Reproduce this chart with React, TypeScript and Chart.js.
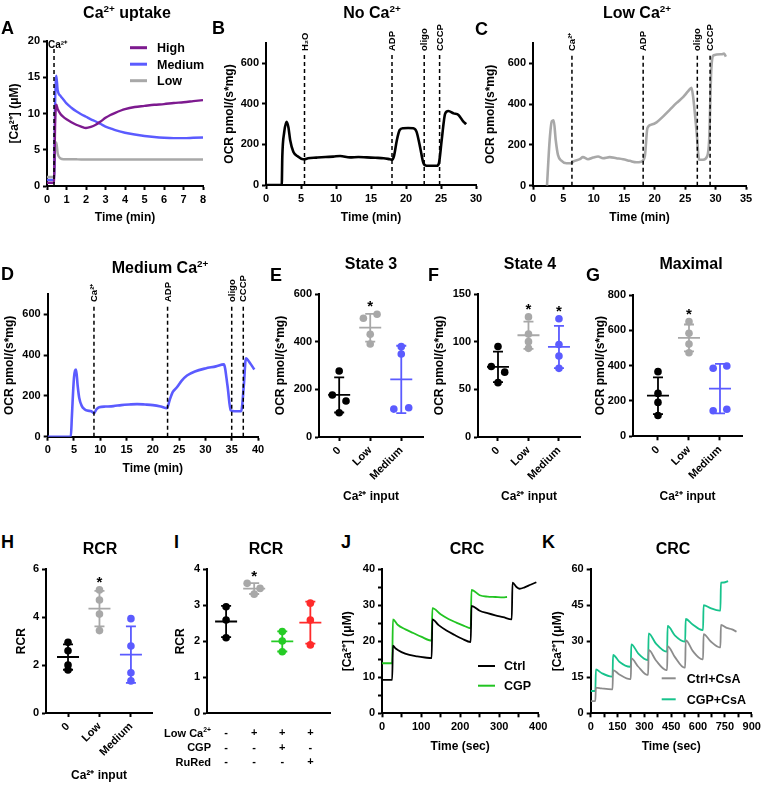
import React, { useEffect, useRef } from 'react';
import { Chart, registerables } from 'chart.js';

Chart.register(...registerables);

const FONT = '"Liberation Sans", Arial, Helvetica, sans-serif';
const BLACK = '#000000';
const PURPLE = '#7d1a8f';
const BLUE = '#5b5bff';
const GREY = '#a8a8a8';
const DARKGREY = '#8c8c8c';
const JGREEN = '#22c422';
const TEAL = '#17c38c';
const IGREEN = '#25cc25';
const RED = '#ff2a2a';

// ---------------- Panel A: Ca2+ uptake ----------------
const aTime = [0, 0.1, 0.2, 0.3, 0.36, 0.42, 0.48, 0.55, 0.7, 0.85, 1.0, 1.25, 1.5, 1.75, 2.0, 2.25, 2.5, 2.75, 3.0, 3.25, 3.5, 4.0, 4.5, 5.0, 5.5, 6.0, 6.5, 7.0, 7.5, 8.0];
const aHigh = [0.45, 0.45, 0.45, 0.45, 0.5, 9.0, 11.2, 10.6, 9.9, 9.5, 9.2, 8.8, 8.45, 8.2, 8.0, 8.15, 8.45, 8.9, 9.4, 9.8, 10.1, 10.6, 10.9, 11.05, 11.2, 11.3, 11.45, 11.55, 11.7, 11.85];
const aMedium = [0.85, 0.85, 0.85, 0.85, 0.9, 12.0, 15.2, 13.2, 12.4, 11.9, 11.4, 10.8, 10.3, 9.9, 9.55, 9.2, 8.9, 8.55, 8.2, 7.95, 7.7, 7.35, 7.1, 6.9, 6.75, 6.65, 6.6, 6.6, 6.65, 6.7];
const aLow = [1.25, 1.25, 1.25, 1.25, 1.3, 5.5, 6.0, 4.5, 3.8, 3.7, 3.7, 3.7, 3.68, 3.66, 3.65, 3.65, 3.65, 3.65, 3.65, 3.65, 3.65, 3.65, 3.65, 3.65, 3.65, 3.65, 3.65, 3.65, 3.65, 3.65];
const aEvents = [0.36];
const aEventLabels = ['Ca²⁺'];
const aXTicks = [0, 1, 2, 3, 4, 5, 6, 7, 8];
const aYTicks = [0, 5, 10, 15, 20];

// ---------------- Panel B: No Ca2+ ----------------
const bTime = [0, 2.25, 2.33, 2.6, 2.95, 3.2, 3.45, 3.9, 4.6, 5.3, 5.5, 6.0, 7.2, 8.5, 9.6, 10.6, 12.0, 13.2, 14.4, 15.6, 16.8, 17.7, 18.05, 18.3, 18.7, 19.1, 19.6, 20.3, 21.05, 21.5, 22.0, 22.5, 22.95, 23.7, 24.4, 24.7, 25.1, 25.6, 26.05, 26.8, 27.5, 28.2, 28.6];
const bOcr = [0, 0, 140, 260, 312, 285, 222, 164, 140, 127, 127, 132, 135, 138, 140, 143, 136, 138, 136, 134, 132, 127, 125, 145, 222, 271, 280, 281, 280, 263, 189, 107, 95, 95, 95, 107, 222, 353, 365, 353, 345, 312, 300];
const bEvents = [5.5, 18.0, 22.6, 24.8];
const bEventLabels = ['H₂O', 'ADP', 'oligo', 'CCCP'];
const bXTicks = [0, 5, 10, 15, 20, 25, 30];

// ---------------- Panel C: Low Ca2+ ----------------
const cTime = [2.3, 2.74, 3.1, 3.4, 3.73, 4.1, 4.66, 5.5, 6.3, 6.58, 7.7, 8.2, 9.05, 9.9, 10.7, 11.5, 12.6, 13.7, 14.8, 15.9, 17.0, 17.8, 18.37, 18.8, 19.5, 20.3, 21.4, 22.5, 23.6, 24.7, 25.5, 26.04, 26.3, 26.9, 27.3, 27.96, 28.6, 28.95, 29.3, 29.7, 31.0, 31.4, 31.7];
const cOcr = [0, 225, 316, 321, 225, 151, 123, 110, 110, 118, 130, 140, 130, 138, 143, 135, 140, 135, 130, 122, 115, 118, 143, 283, 300, 311, 340, 373, 406, 436, 464, 480, 439, 258, 127, 127, 143, 225, 571, 640, 645, 648, 633];
const cEvents = [6.4, 18.1, 27.0, 29.1];
const cEventLabels = ['Ca²⁺', 'ADP', 'oligo', 'CCCP'];
const cXTicks = [0, 5, 10, 15, 20, 25, 30, 35];

// ---------------- Panel D: Medium Ca2+ ----------------
const dTime = [0, 4.4, 4.6, 5.0, 5.4, 5.7, 6.0, 6.5, 7.0, 7.5, 8.3, 8.8, 9.3, 9.8, 11, 12.5, 14, 15.5, 17, 18.5, 20, 21.5, 22.7, 23.2, 23.8, 24.5, 25.5, 26.5, 28, 30, 32, 33.5, 34.2, 34.8, 35.5, 36.8, 37.3, 37.7, 38.5, 39.3];
const dOcr = [0, 0, 100, 290, 330, 250, 190, 150, 135, 128, 125, 115, 135, 145, 148, 150, 155, 158, 160, 158, 155, 148, 140, 180, 220, 240, 275, 300, 320, 335, 345, 355, 250, 130, 125, 125, 250, 385, 360, 330];
const dEvents = [8.8, 22.8, 35.0, 37.2];
const dEventLabels = ['Ca²⁺', 'ADP', 'oligo', 'CCCP'];
const dXTicks = [0, 5, 10, 15, 20, 25, 30, 35, 40];
const ocrTicks = [0, 200, 400, 600];

// ---------------- Panels E-H: scatter with mean ± SD ----------------
const caInputCats = ['0', 'Low', 'Medium'];
const eState3Zero = [277, 176, 151, 102];
const eState3Low = [515, 498, 431, 390];
const eState3Medium = [379, 348, 117, 123];
const fState4Zero = [95, 74, 68, 57];
const fState4Low = [126, 108, 100, 93];
const fState4Medium = [124, 97, 85, 72];
const gMaxZero = [366, 243, 192, 118];
const gMaxLow = [649, 583, 522, 473];
const gMaxMedium = [385, 398, 145, 153];
const hRcrZero = [2.95, 2.6, 2.0, 1.8];
const hRcrLow = [5.14, 4.72, 4.13, 3.44];
const hRcrMedium = [3.94, 2.8, 1.68, 1.34];

// ---------------- Panel I ----------------
const iCtrl = [2.96, 2.59, 2.1];
const iLowCa = [3.61, 3.47, 3.31];
const iCgp = [2.27, 2.01, 1.71];
const iRuRed = [3.06, 2.59, 1.9];
const iRowLowCa = ['-', '+', '+', '+'];
const iRowCGP = ['-', '-', '+', '-'];
const iRowRuRed = ['-', '-', '-', '+'];

// ---------------- Panel J: CRC ----------------
const jCtrlT = [0, 26, 28, 35, 50, 70, 90, 110, 127, 129, 145, 165, 185, 205, 227, 229, 250, 270, 290, 310, 332, 334, 345, 352, 365, 380, 395];
const jCtrl = [9.3, 9.3, 18.8, 18.0, 17.0, 16.2, 15.8, 15.5, 15.3, 26.1, 24.5, 23.0, 21.8, 20.7, 19.8, 29.8, 28.5, 27.8, 27.2, 26.7, 26.1, 36.3, 35.0, 34.6, 35.0, 35.7, 36.4];
const jCgpT = [0, 26, 28, 40, 60, 80, 100, 127, 129, 150, 170, 190, 210, 227, 229, 250, 270, 290, 310, 320];
const jCgp = [13.9, 13.9, 26.1, 24.6, 23.3, 22.3, 21.3, 20.2, 29.2, 27.5, 26.2, 25.2, 24.3, 23.6, 34.3, 32.8, 32.4, 32.3, 32.2, 32.3];
const jXTicks = [0, 50, 100, 150, 200, 250, 300, 350, 400];
const jYTicks = [0, 5, 10, 15, 20, 25, 30, 35, 40];

// ---------------- Panel K: CRC with CsA ----------------
const kCtrlT = [0, 26, 29, 60, 118, 122, 125, 160, 220, 224, 227, 265, 318, 321, 324, 365, 423, 427, 430, 470, 524, 528, 531, 570, 624, 628, 631, 670, 721, 725, 728, 760, 790, 815];
const kCtrl = [5.1, 5.1, 10.7, 10.4, 10.0, 10.0, 18.0, 16.2, 14.2, 14.2, 22.9, 19.5, 16.0, 16.0, 26.4, 22.0, 18.0, 18.0, 28.0, 23.5, 19.0, 19.0, 30.5, 26.0, 22.5, 22.5, 33.0, 30.0, 27.5, 27.5, 36.8, 35.6, 35.0, 34.0];
const kCgpT = [0, 26, 29, 60, 118, 122, 125, 160, 220, 224, 227, 265, 318, 321, 324, 365, 423, 427, 430, 470, 524, 528, 531, 570, 624, 628, 631, 670, 721, 725, 728, 745, 768];
const kCgp = [9.3, 9.3, 18.3, 16.8, 15.3, 15.3, 24.3, 21.5, 19.4, 19.4, 28.75, 25.0, 22.2, 22.2, 33.3, 29.0, 25.7, 25.7, 36.4, 32.5, 29.9, 29.9, 39.3, 37.0, 34.7, 34.7, 45.1, 43.8, 42.8, 42.8, 54.4, 54.5, 55.1];
const kXTicks = [0, 75, 150, 225, 300, 375, 450, 525, 600, 675, 750, 825, 900];
const kYTicks = [0, 15, 30, 45, 60];

// ================= helpers =================
type Area = { l: number; t: number; r: number; b: number };
type Frame = { padding: any; yW: number; xH: number };

const tickFont = { family: FONT, size: 11, weight: 'bold' };
const axisTitleFont = { family: FONT, size: 12, weight: 'bold' };

function fitter(size: number, horizontal: boolean) {
  return (s: any) => {
    if (horizontal) s.height = size;
    else s.width = size;
    s.paddingLeft = 0;
    s.paddingRight = 0;
    s.paddingTop = 0;
    s.paddingBottom = 0;
  };
}

function scale(o: any) {
  return {
    type: 'linear',
    min: o.min,
    max: o.max,
    afterBuildTicks: (s: any) => {
      s.ticks = o.ticks.map((v: number) => ({ value: v }));
    },
    afterFit: fitter(o.size, o.horizontal),
    border: { display: true, color: BLACK, width: 2 },
    grid: {
      display: true,
      drawOnChartArea: false,
      drawTicks: o.drawTicks !== false,
      tickLength: o.tickLen ?? 4,
      tickWidth: 2,
      tickColor: BLACK,
    },
    ticks: {
      color: BLACK,
      font: { ...tickFont, lineHeight: o.lineHeight ?? 1.2 },
      padding: o.padding ?? 3,
      autoSkip: false,
      minRotation: o.rotation ?? 0,
      maxRotation: o.rotation ?? 0,
      callback: o.label ?? ((v: number) => String(v)),
    },
    title: o.title
      ? { display: true, text: o.title, color: BLACK, font: axisTitleFont, padding: 0 }
      : { display: false },
  };
}

const every = (step: number) => (v: number) => (Math.abs(v / step - Math.round(v / step)) < 1e-9 ? String(v) : '');

function config(f: Frame, datasets: any[], x: any, y: any, plugins: any[]) {
  return {
    type: 'line',
    data: { datasets },
    options: {
      responsive: false,
      maintainAspectRatio: false,
      animation: false,
      devicePixelRatio: 1,
      events: [],
      layout: { padding: f.padding },
      plugins: { legend: { display: false }, tooltip: { enabled: false }, title: { display: false } },
      scales: { x, y },
    },
    plugins,
  };
}

function line(xs: number[], ys: number[], color: string, label: string, width = 2.5) {
  return {
    label,
    data: xs.map((x, i) => ({ x, y: ys[i] })),
    borderColor: color,
    backgroundColor: color,
    borderWidth: width,
    pointRadius: 0,
    pointHoverRadius: 0,
    cubicInterpolationMode: 'monotone',
    fill: false,
  };
}

function vlines(xs: number[], labels: string[], rotate: boolean, gap: number, size: number) {
  return {
    id: 'vlines',
    afterDatasetsDraw(chart: any) {
      const { ctx, chartArea: a, scales } = chart;
      ctx.save();
      xs.forEach((v, i) => {
        const px = scales.x.getPixelForValue(v);
        const top = a.top + gap;
        ctx.strokeStyle = BLACK;
        ctx.lineWidth = 1.5;
        ctx.setLineDash([4, 3]);
        ctx.beginPath();
        ctx.moveTo(px, a.bottom);
        ctx.lineTo(px, top);
        ctx.stroke();
        ctx.setLineDash([]);
        ctx.fillStyle = BLACK;
        ctx.font = `bold ${size}px ${FONT}`;
        if (rotate) {
          ctx.save();
          ctx.translate(px + 0.5, top - 2);
          ctx.rotate(-Math.PI / 2);
          ctx.textAlign = 'left';
          ctx.textBaseline = 'middle';
          ctx.fillText(labels[i], 0, 0);
          ctx.restore();
        } else {
          ctx.textAlign = 'left';
          ctx.textBaseline = 'alphabetic';
          ctx.fillText(labels[i], px - 6, top - 1);
        }
      });
      ctx.restore();
    },
  };
}

function inLegend(o: { x: number; y: number; len: number; tx: number; row: number; size: number; lw: number }) {
  return {
    id: 'inlegend',
    afterDatasetsDraw(chart: any) {
      const { ctx, chartArea: a } = chart;
      ctx.save();
      ctx.font = `bold ${o.size}px ${FONT}`;
      ctx.textBaseline = 'middle';
      ctx.textAlign = 'left';
      chart.data.datasets.forEach((ds: any, i: number) => {
        const y = a.top + o.y + i * o.row;
        ctx.strokeStyle = ds.borderColor;
        ctx.lineWidth = o.lw;
        ctx.beginPath();
        ctx.moveTo(a.left + o.x, y);
        ctx.lineTo(a.left + o.x + o.len, y);
        ctx.stroke();
        ctx.fillStyle = BLACK;
        ctx.fillText(ds.label, a.left + o.tx, y + 1);
      });
      ctx.restore();
    },
  };
}

type Group = { vals: number[]; jit: number[]; color: string; cat: number };

function stats(vals: number[]) {
  const n = vals.length;
  const mean = vals.reduce((s, v) => s + v, 0) / n;
  const sd = Math.sqrt(vals.reduce((s, v) => s + (v - mean) * (v - mean), 0) / (n - 1));
  return { mean, sd };
}

function errorBars(groups: Group[], stars: number[]) {
  return {
    id: 'errbars',
    beforeDatasetsDraw(chart: any) {
      const { ctx, scales } = chart;
      ctx.save();
      groups.forEach((g) => {
        const { mean, sd } = stats(g.vals);
        const cx = scales.x.getPixelForValue(g.cat);
        const yt = scales.y.getPixelForValue(mean + sd);
        const yb = scales.y.getPixelForValue(Math.max(mean - sd, scales.y.min));
        const ym = scales.y.getPixelForValue(mean);
        ctx.strokeStyle = g.color;
        ctx.lineWidth = 1.8;
        ctx.beginPath();
        ctx.moveTo(cx, yt);
        ctx.lineTo(cx, yb);
        ctx.moveTo(cx - 5, yt);
        ctx.lineTo(cx + 5, yt);
        ctx.moveTo(cx - 5, yb);
        ctx.lineTo(cx + 5, yb);
        ctx.moveTo(cx - 11, ym);
        ctx.lineTo(cx + 11, ym);
        ctx.stroke();
      });
      ctx.restore();
    },
    afterDatasetsDraw(chart: any) {
      const { ctx, scales } = chart;
      ctx.save();
      ctx.fillStyle = BLACK;
      ctx.font = `bold 15px ${FONT}`;
      ctx.textAlign = 'center';
      ctx.textBaseline = 'alphabetic';
      stars.forEach((si) => {
        const g = groups[si];
        const { mean, sd } = stats(g.vals);
        const top = Math.max(mean + sd, ...g.vals);
        const py = scales.y.getPixelForValue(top);
        ctx.fillText('*', scales.x.getPixelForValue(g.cat), py - 11 + 8.5);
      });
      ctx.restore();
    },
  };
}

function scatterDatasets(groups: Group[]) {
  return groups.map((g) => ({
    data: g.vals.map((v, i) => ({ x: g.cat + g.jit[i], y: v })),
    showLine: false,
    pointRadius: 3.8,
    pointHoverRadius: 0,
    pointBackgroundColor: g.color,
    pointBorderWidth: 0,
    borderColor: g.color,
    backgroundColor: g.color,
  }));
}

// ================= panel specifications =================
type Spec = { key: string; box: number[]; area: Area; build: (f: Frame) => any };

const OCR = 'OCR pmol/(s*mg)';
const TIME_MIN = 'Time (min)';
const TIME_SEC = 'Time (sec)';
const CA_UM = '[Ca²⁺] (μM)';
const CA_INPUT = 'Ca²⁺ input';

function ocrPanel(f: Frame, xs: number[], ys: number[], color: string, xMax: number, xTicks: number[], ev: number[], evl: string[]) {
  return config(
    f,
    [line(xs, ys, color, 'OCR', 2.6)],
    scale({ horizontal: true, size: f.xH, min: 0, max: xMax, ticks: xTicks, title: TIME_MIN }),
    scale({ horizontal: false, size: f.yW, min: 0, max: 700, ticks: ocrTicks, title: OCR }),
    [vlines(ev, evl, true, 10, 9.5)]
  );
}

function scatterPanel(f: Frame, groups: Group[], xMin: number, xMax: number, yMax: number, yTicks: number[], yTitle: string, stars: number[]) {
  return config(
    f,
    scatterDatasets(groups),
    scale({
      horizontal: true,
      size: f.xH,
      min: xMin,
      max: xMax,
      ticks: [0, 1, 2],
      rotation: 45,
      label: (v: number) => caInputCats[Math.round(v)],
      title: CA_INPUT,
    }),
    scale({ horizontal: false, size: f.yW, min: 0, max: yMax, ticks: yTicks, title: yTitle }),
    [errorBars(groups, stars)]
  );
}

const J0 = [0, 0, 0, 0];

const specs: Spec[] = [
  {
    key: 'A',
    box: [7, 25, 212, 225],
    area: { l: 47, t: 41, r: 203, b: 186 },
    build: (f) =>
      config(
        f,
        [line(aTime, aHigh, PURPLE, 'High', 2.4), line(aTime, aMedium, BLUE, 'Medium', 2.4), line(aTime, aLow, GREY, 'Low', 2.4)],
        scale({ horizontal: true, size: f.xH, min: 0, max: 8, ticks: aXTicks, title: TIME_MIN }),
        scale({ horizontal: false, size: f.yW, min: 0, max: 20, ticks: aYTicks, title: CA_UM }),
        [vlines(aEvents, aEventLabels, false, 8, 10), inLegend({ x: 83, y: 6.7, len: 17, tx: 110, row: 16.5, size: 12.5, lw: 3 })]
      ),
  },
  {
    key: 'B',
    box: [222, 20, 486, 225],
    area: { l: 266, t: 43, r: 476, b: 185 },
    build: (f) => ocrPanel(f, bTime, bOcr, BLACK, 30, bXTicks, bEvents, bEventLabels),
  },
  {
    key: 'C',
    box: [483, 20, 758, 225],
    area: { l: 533, t: 43, r: 746, b: 185.7 },
    build: (f) => ocrPanel(f, cTime, cOcr, GREY, 35, cXTicks, cEvents, cEventLabels),
  },
  {
    key: 'D',
    box: [2, 270, 268, 476],
    area: { l: 47.7, t: 294, r: 258, b: 436.7 },
    build: (f) => ocrPanel(f, dTime, dOcr, BLUE, 40, dXTicks, dEvents, dEventLabels),
  },
  {
    key: 'E',
    box: [273, 280, 428, 504],
    area: { l: 319, t: 294, r: 423, b: 437 },
    build: (f) =>
      scatterPanel(
        f,
        [
          { vals: eState3Zero, jit: [0, -0.22, 0.22, 0], color: BLACK, cat: 0 },
          { vals: eState3Low, jit: [0.22, -0.22, 0, 0], color: GREY, cat: 1 },
          { vals: eState3Medium, jit: [0, 0, -0.24, 0.24], color: BLUE, cat: 2 },
        ],
        -0.65, 2.7, 600, [0, 200, 400, 600], OCR, [1]
      ),
  },
  {
    key: 'F',
    box: [432, 280, 585, 504],
    area: { l: 478, t: 294, r: 580, b: 437 },
    build: (f) =>
      scatterPanel(
        f,
        [
          { vals: fState4Zero, jit: [0, -0.22, 0.22, 0], color: BLACK, cat: 0 },
          { vals: fState4Low, jit: J0, color: GREY, cat: 1 },
          { vals: fState4Medium, jit: J0, color: BLUE, cat: 2 },
        ],
        -0.656, 2.69, 150, [0, 50, 100, 150], OCR, [1, 2]
      ),
  },
  {
    key: 'G',
    box: [593, 280, 750, 504],
    area: { l: 633, t: 295, r: 742, b: 436.3 },
    build: (f) =>
      scatterPanel(
        f,
        [
          { vals: gMaxZero, jit: J0, color: BLACK, cat: 0 },
          { vals: gMaxLow, jit: J0, color: GREY, cat: 1 },
          { vals: gMaxMedium, jit: [-0.22, 0.22, -0.22, 0.22], color: BLUE, cat: 2 },
        ],
        -0.806, 2.71, 800, [0, 200, 400, 600, 800], OCR, [1]
      ),
  },
  {
    key: 'H',
    box: [14, 555, 158, 783],
    area: { l: 46, t: 569.3, r: 152, b: 713 },
    build: (f) =>
      scatterPanel(
        f,
        [
          { vals: hRcrZero, jit: J0, color: BLACK, cat: 0 },
          { vals: hRcrLow, jit: J0, color: GREY, cat: 1 },
          { vals: hRcrMedium, jit: J0, color: BLUE, cat: 2 },
        ],
        -0.7, 2.67, 6, [0, 2, 4, 6], 'RCR', [1]
      ),
  },
  {
    key: 'I',
    box: [173, 555, 336, 775],
    area: { l: 207, t: 569.3, r: 330, b: 713.3 },
    build: (f) => {
      const groups: Group[] = [
        { vals: iCtrl, jit: [0, 0, 0], color: BLACK, cat: 0 },
        { vals: iLowCa, jit: [-0.25, 0.21, 0], color: GREY, cat: 1 },
        { vals: iCgp, jit: [0, 0, 0], color: IGREEN, cat: 2 },
        { vals: iRuRed, jit: [0, 0, 0], color: RED, cat: 3 },
      ];
      return config(
        f,
        scatterDatasets(groups),
        scale({
          horizontal: true,
          size: f.xH,
          min: -0.68,
          max: 3.7,
          ticks: [0, 1, 2, 3],
          drawTicks: false,
          padding: 12.5,
          lineHeight: 1.32,
          label: (v: number) => {
            const k = Math.round(v);
            return [iRowLowCa[k], iRowCGP[k], iRowRuRed[k]];
          },
        }),
        scale({ horizontal: false, size: f.yW, min: 0, max: 4, ticks: [0, 1, 2, 3, 4], title: 'RCR' }),
        [errorBars(groups, [1])]
      );
    },
  },
  {
    key: 'J',
    box: [340, 555, 552, 754],
    area: { l: 382, t: 569.3, r: 538.3, b: 713.3 },
    build: (f) =>
      config(
        f,
        [line(jCtrlT, jCtrl, BLACK, 'Ctrl', 1.8), line(jCgpT, jCgp, JGREEN, 'CGP', 1.8)],
        scale({ horizontal: true, size: f.xH, min: 0, max: 400, ticks: jXTicks, label: every(100), title: TIME_SEC }),
        scale({ horizontal: false, size: f.yW, min: 0, max: 40, ticks: jYTicks, label: every(10), title: CA_UM }),
        [inLegend({ x: 96, y: 96.7, len: 17, tx: 122, row: 19.7, size: 12.5, lw: 2 })]
      ),
  },
  {
    key: 'K',
    box: [550, 555, 761, 754],
    area: { l: 590.7, t: 569.3, r: 751.7, b: 713.3 },
    build: (f) =>
      config(
        f,
        [line(kCtrlT, kCtrl, DARKGREY, 'Ctrl+CsA', 1.8), line(kCgpT, kCgp, TEAL, 'CGP+CsA', 1.8)],
        scale({ horizontal: true, size: f.xH, min: 0, max: 900, ticks: kXTicks, label: every(150), title: TIME_SEC }),
        scale({ horizontal: false, size: f.yW, min: 0, max: 60, ticks: kYTicks, title: CA_UM }),
        [inLegend({ x: 71, y: 109, len: 14, tx: 96, row: 21, size: 12.5, lw: 2 })]
      ),
  },
];

function Panel({ spec }: { spec: Spec }) {
  const ref = useRef<HTMLCanvasElement | null>(null);
  const [l, t, r, b] = spec.box;
  const w = r - l;
  const h = b - t;
  useEffect(() => {
    const a = spec.area;
    const f: Frame = {
      padding: { left: 0, bottom: 0, top: a.t - t, right: r - a.r },
      yW: a.l - l,
      xH: b - a.b,
    };
    const chart = new Chart(ref.current as HTMLCanvasElement, spec.build(f));
    return () => chart.destroy();
  }, []);
  return (
    <canvas
      ref={ref}
      width={w}
      height={h}
      style={{ position: 'absolute', left: l, top: t, width: w, height: h, display: 'block' }}
    />
  );
}

const Sup = ({ children }: { children: any }) => (
  <span style={{ fontSize: '0.62em', position: 'relative', top: '-0.62em', lineHeight: 0 }}>{children}</span>
);

function Txt({ x, capTop, size, align = 'left', children }: any) {
  const shift = align === 'center' ? 'translateX(-50%)' : align === 'right' ? 'translateX(-100%)' : 'none';
  return (
    <div
      style={{
        position: 'absolute',
        left: x,
        top: capTop - 0.13 * size,
        fontSize: size,
        lineHeight: `${size}px`,
        fontWeight: 'bold',
        fontFamily: FONT,
        color: BLACK,
        whiteSpace: 'nowrap',
        transform: shift,
      }}
    >
      {children}
    </div>
  );
}

const letters: [string, number, number][] = [
  ['A', 1, 21], ['B', 212, 21], ['C', 475, 22],
  ['D', 1, 267], ['E', 270, 268], ['F', 428, 268], ['G', 586, 268],
  ['H', 1, 535], ['I', 174, 535], ['J', 341, 535], ['K', 542, 535],
];

export default function App() {
  return (
    <div style={{ position: 'absolute', left: 0, top: 0, width: 762, height: 793, background: '#ffffff', overflow: 'hidden' }}>
      {specs.map((s) => (
        <Panel key={s.key} spec={s} />
      ))}
      {letters.map(([c, x, y]) => (
        <Txt key={c} x={x} capTop={y} size={18}>{c}</Txt>
      ))}
      <Txt x={127} capTop={7} size={16} align="center">Ca<Sup>2+</Sup> uptake</Txt>
      <Txt x={372} capTop={7} size={16} align="center">No Ca<Sup>2+</Sup></Txt>
      <Txt x={637} capTop={7} size={16} align="center">Low Ca<Sup>2+</Sup></Txt>
      <Txt x={160} capTop={262} size={16} align="center">Medium Ca<Sup>2+</Sup></Txt>
      <Txt x={371} capTop={258} size={16} align="center">State 3</Txt>
      <Txt x={530} capTop={258} size={16} align="center">State 4</Txt>
      <Txt x={691} capTop={258} size={16} align="center">Maximal</Txt>
      <Txt x={100} capTop={543} size={16} align="center">RCR</Txt>
      <Txt x={266} capTop={543} size={16} align="center">RCR</Txt>
      <Txt x={467} capTop={543} size={16} align="center">CRC</Txt>
      <Txt x={673} capTop={543} size={16} align="center">CRC</Txt>
      <Txt x={211} capTop={729} size={11} align="right">Low Ca<Sup>2+</Sup></Txt>
      <Txt x={211} capTop={743.6} size={11} align="right">CGP</Txt>
      <Txt x={211} capTop={758} size={11} align="right">RuRed</Txt>
    </div>
  );
}
